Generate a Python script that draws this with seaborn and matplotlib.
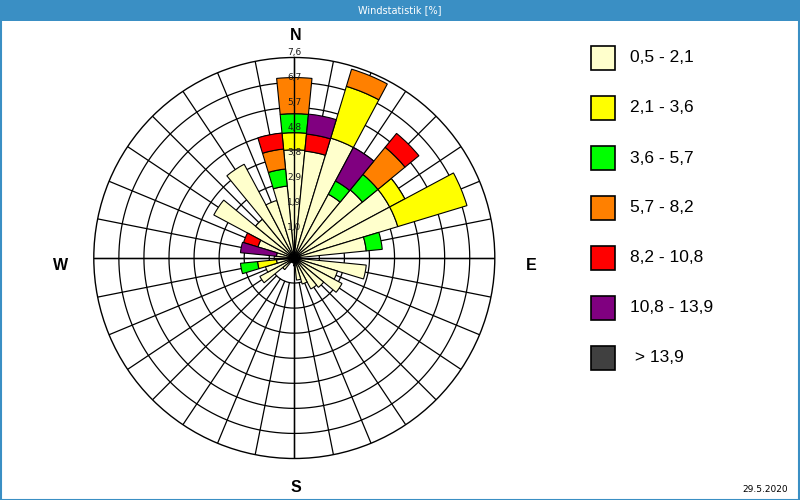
import numpy as np
import matplotlib
matplotlib.use("Agg")
import matplotlib.pyplot as plt
from matplotlib.patches import Rectangle
import seaborn as sns

# ---------------- data ----------------
directions_deg = [0, 11.25, 22.5, 33.75, 45, 56.25, 67.5, 78.75,
                  90, 101.25, 112.5, 123.75, 135, 146.25, 157.5, 168.75,
                  180, 191.25, 202.5, 213.75, 225, 236.25, 247.5, 258.75,
                  270, 281.25, 292.5, 303.75, 315, 326.25, 337.5, 348.75]

# frequency (%) per speed class and direction
cls_0_5_2_1 = [4.10, 4.07, 4.75, 2.74, 3.34, 4.10, 4.10, 2.74,
               0.23, 2.74, 1.71, 2.05, 1.44, 1.33, 1.03, 0.84,
               0.30, 0.19, 0.19, 0.19, 0.57, 1.48, 1.14, 0.68,
               0.76, 0.68, 1.44, 3.46, 1.90, 4.03, 2.28, 2.74]
cls_2_1_3_6 = [0.65, 0, 2.05, 0, 0, 0.65, 2.74, 0,
               0, 0, 0, 0, 0, 0, 0, 0,
               0, 0, 0, 0, 0, 0, 0, 0.72,
               0, 0, 0, 0, 0, 0, 0, 0]
cls_3_6_5_7 = [0.72, 0, 0, 0.57, 0.76, 0, 0, 0.61,
               0, 0, 0, 0, 0, 0, 0, 0,
               0, 0, 0, 0, 0, 0, 0, 0.65,
               0, 0, 0, 0, 0, 0, 0, 0.65]
cls_5_7_8_2 = [1.37, 0, 0.68, 0, 1.33, 0, 0, 0,
               0, 0, 0, 0, 0, 0, 0, 0,
               0, 0, 0, 0, 0, 0, 0, 0,
               0, 0, 0, 0, 0, 0, 0, 0.76]
cls_8_2_10_8 = [0, 0.65, 0, 0, 0.68, 0, 0, 0,
                0, 0, 0, 0, 0, 0, 0, 0,
                0, 0, 0, 0, 0, 0, 0, 0,
                0, 0, 0.57, 0, 0, 0, 0, 0.61]
cls_10_8_13_9 = [0, 0.76, 0, 1.44, 0, 0, 0, 0,
                 0, 0, 0, 0, 0, 0, 0, 0,
                 0, 0, 0, 0, 0, 0, 0, 0,
                 0, 1.37, 0, 0, 0, 0, 0, 0]
cls_gt_13_9 = [0] * 32

class_values = [cls_0_5_2_1, cls_2_1_3_6, cls_3_6_5_7, cls_5_7_8_2,
                cls_8_2_10_8, cls_10_8_13_9, cls_gt_13_9]
class_labels = ["0,5 - 2,1", "2,1 - 3,6", "3,6 - 5,7", "5,7 - 8,2",
                "8,2 - 10,8", "10,8 - 13,9", " > 13,9"]
class_colors = ["#FFFFCC", "#FFFF00", "#00FF00", "#FF8000",
                "#FF0000", "#800080", "#404040"]

ring_values = [0.95, 1.9, 2.85, 3.8, 4.75, 5.7, 6.65, 7.6]
ring_labels = ["1,0", "1,9", "2,9", "3,8", "4,8", "5,7", "6,7", "7,6"]
compass_labels = ["N", "E", "S", "W"]
title_text = "Windstatistik [%]"
date_text = "29.5.2020"

# ---------------- style ----------------
sns.set_theme(style="white")
plt.rcParams['font.family'] = ['DejaVu Sans']
palette = sns.color_palette(class_colors)

W, H = 800, 500
fig = plt.figure(figsize=(8, 5), dpi=100)
fig.patch.set_facecolor("white")

def fx(px):
    return px / W

def fy(py):
    return 1 - py / H

cx, cy, R = 294.3, 258.0, 200.5
ax = fig.add_axes([fx(cx - R), fy(cy + R), 2 * R / W, 2 * R / H], projection="polar")
ax.set_theta_zero_location("N")
ax.set_theta_direction(-1)
ax.set_ylim(0, ring_values[-1])
ax.set_xticks([])
ax.set_yticks([])
ax.grid(False)
ax.set_facecolor("white")
ax.spines["polar"].set_color("black")
ax.spines["polar"].set_linewidth(1.0)

theta = np.radians(directions_deg)
width = np.radians(11.25)

# grid: rings and spokes
full = np.linspace(0, 2 * np.pi, 721)
for r in ring_values[:-1]:
    ax.plot(full, np.full_like(full, r), color="black", lw=0.9, zorder=1)
for th in theta:
    ax.plot([th, th], [ring_values[0], ring_values[-1]], color="black", lw=0.9, zorder=1)

# stacked bars
bottom = np.zeros(len(directions_deg))
for vals, col in zip(class_values, palette):
    vals = np.array(vals, dtype=float)
    m = vals > 0
    if m.any():
        ax.bar(theta[m], vals[m], width=width, bottom=bottom[m], color=col,
               edgecolor="black", linewidth=0.8, zorder=2, align="center")
    bottom += vals

# main cross
for th in np.radians([0, 90, 180, 270]):
    ax.plot([th, th], [0, ring_values[-1]], color="black", lw=1.0, zorder=4)
ax.plot(0, 0, marker="o", ms=5, color="black", zorder=5)

# radial labels along north axis
for r, lab in zip(ring_values, ring_labels):
    ax.text(0, r + 0.2, lab, ha="center", va="center", fontsize=6.5,
            color="#1a1a1a", zorder=6)

# compass letters
comp_pos = {"N": (296, 36), "E": (531, 265), "S": (296, 488), "W": (61, 265)}
for lab in compass_labels:
    x, y = comp_pos[lab]
    fig.text(fx(x), fy(y), lab, ha="center", va="center", fontsize=11.5,
             fontweight="bold", family="Liberation Sans", color="black")

# legend
for i, (lab, col) in enumerate(zip(class_labels, palette)):
    top = 46 + 50 * i
    fig.add_artist(Rectangle((fx(591), fy(top + 24)), 24 / W, 24 / H,
                             transform=fig.transFigure, facecolor=col,
                             edgecolor="black", linewidth=1.2))
    fig.text(fx(630), fy(top + 12), lab, ha="left", va="center",
             fontsize=12.5, family="Liberation Sans", color="black")

# title bar
fig.add_artist(Rectangle((0, fy(21)), 1, 21 / H, transform=fig.transFigure,
                         facecolor="#3a8fc4", edgecolor="none", zorder=0))
fig.text(0.5, fy(10.5), title_text, ha="center", va="center", fontsize=7,
         color="white")
# frame
fig.add_artist(Rectangle((0.0008, 0.001), 0.9984, 0.998, transform=fig.transFigure,
                         facecolor="none", edgecolor="#3a8fc4", linewidth=1.5))

fig.text(fx(765), fy(490), date_text, ha="center", va="center", fontsize=6.5,
         color="black")

fig.savefig("out.png", dpi=100)
